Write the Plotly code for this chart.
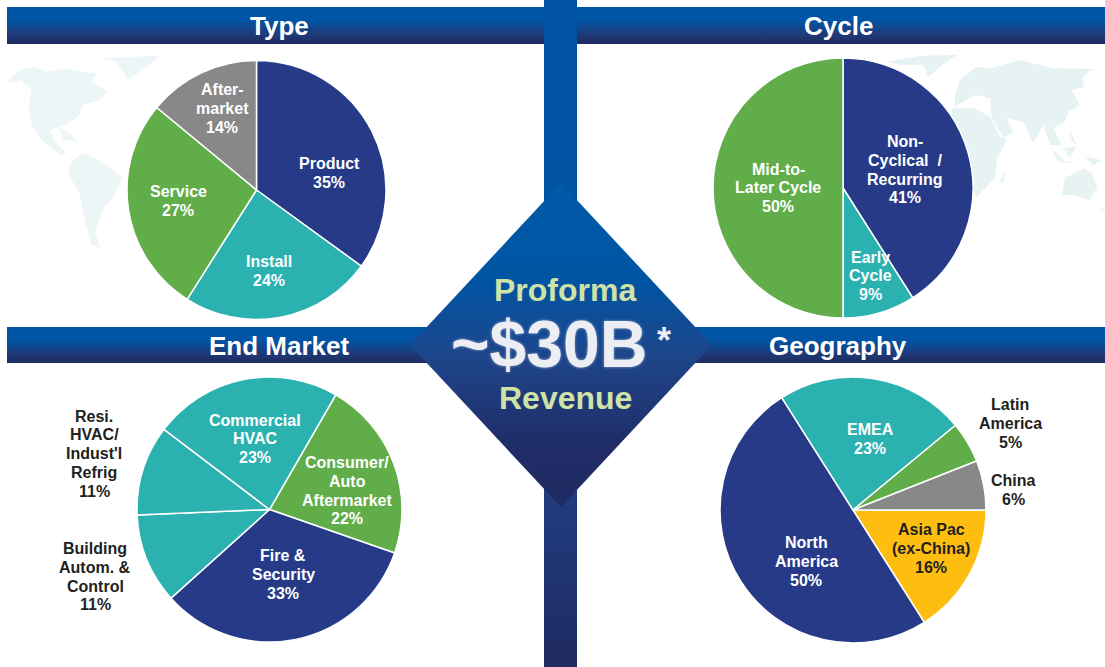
import plotly.graph_objects as go

# ---------- data ----------
type_labels = ["Product", "Install", "Service", "Aftermarket"]
type_values = [35, 24, 27, 14]
cycle_labels = ["Non-Cyclical / Recurring", "Early Cycle", "Mid-to-Later Cycle"]
cycle_values = [41, 9, 50]
market_labels = ["Consumer/Auto Aftermarket", "Fire & Security", "Building Autom. & Control",
                 "Resi. HVAC/Indust'l Refrig", "Commercial HVAC"]
market_values = [22, 33, 11, 11, 23]
geo_labels = ["Asia Pac (ex-China)", "North America", "EMEA", "Latin America", "China"]
geo_values = [16, 50, 23, 5, 6]

NAVY, TEAL, GREEN, GREY, YELLOW = "#263a87", "#2bb2b0", "#60ad4a", "#888888", "#fdbe10"
WHITE, INK, PALE = "#ffffff", "#231f20", "#cfe3a6"
FONT = "Liberation Sans"
W, H = 1105, 667

fig = go.Figure()

# ---------- pale world maps (decoration) ----------
maps = [
    (0, 45, "#edf6f6", [
        [(25,105),(60,75),(105,65),(140,80),(200,70),(230,78),(290,85),(275,110),(320,140),(300,165),(250,180),(235,215),(195,240),(150,255),(165,290),(200,325),(180,330),(125,285),(95,240),(85,190),(95,130),(60,105),(25,115)],
        [(300,40),(480,32),(440,65),(385,105),(360,70),(350,50)],
        [(215,350),(245,325),(300,345),(365,395),(345,450),(310,490),(285,560),(300,610),(275,600),(258,540),(240,450),(205,385)],
        [(175,245),(205,262),(235,290),(190,285)],
    ]),
    (880, 45, "#e7f3f3", [
        [(20,50),(120,32),(230,30),(180,65),(145,95),(130,60),(60,60)],
        [(225,150),(240,105),(290,65),(330,70),(420,45),(520,70),(640,72),(610,95),(610,125),(575,135),(600,180),(565,200),(555,230),(520,250),(545,300),(510,300),(490,240),(460,295),(430,230),(380,220),(400,260),(370,280),(335,220),(330,160),(285,150),(225,185)],
        [(215,190),(285,190),(330,215),(360,275),(380,285),(350,345),(345,400),(290,455),(270,440),(240,300),(215,250)],
        [(375,375),(370,415),(358,410)],
        [(545,450),(555,400),(610,370),(635,385),(652,425),(630,465),(580,450)],
        [(515,310),(560,355),(530,345)],
        [(550,310),(590,305),(570,340)],
        [(570,255),(590,300),(575,290)],
        [(530,345),(590,355),(540,352)],
        [(615,335),(665,345),(640,360)],
        [(660,495),(675,490),(665,500)],
    ]),
]
shapes = []
for ox, oy, tint, polys in maps:
    for poly in polys:
        pts = [(ox + x / 3, oy + y / 3) for x, y in poly]
        path = "M " + " L ".join(f"{x:.1f},{y:.1f}" for x, y in pts) + " Z"
        shapes.append(dict(type="path", path=path, xref="x", yref="y", layer="below",
                           fillcolor=tint, line=dict(width=0)))

# ---------- gradient banners and centre diamond ----------
# stops are listed top to bottom of the picture
BAND = [[0, "#0055a5"], [0.35, "#0055a5"], [0.75, "#1f3a78"], [1, "#1f2a60"]]
TALL = [[0, "#0052a2"], [0.4, "#0055a3"], [0.7, "#1f3f85"], [1, "#1f2a60"]]
DIAMOND = [[0, "#005aa8"], [0.3, "#0055a3"], [0.55, "#1f4489"], [0.8, "#1f2d68"], [1, "#1f2a60"]]


def band(xs, ys, stops):
    # the y axis runs downwards, so the fill gradient is given bottom to top
    scale = [[round(1 - p, 4), c] for p, c in reversed(stops)]
    fig.add_trace(go.Scatter(x=xs, y=ys, mode="lines", fill="toself",
                             line=dict(width=0), hoverinfo="skip", showlegend=False,
                             fillgradient=dict(type="vertical", colorscale=scale)))


band([544, 577, 577, 544, 544], [0, 0, 667, 667, 0], TALL)
band([7, 544, 544, 7, 7], [7, 7, 44, 44, 7], BAND)
band([577, 1105, 1105, 577, 577], [7, 7, 44, 44, 7], BAND)
band([7, 440, 440, 7, 7], [327, 327, 363, 363, 327], BAND)
band([680, 1105, 1105, 680, 680], [327, 327, 363, 363, 327], BAND)
band([561, 712, 561, 410, 561], [183, 345, 507, 345, 183], DIAMOND)


# ---------- pies ----------
def pie(labels, values, colors, cx, cy, r, rotation):
    fig.add_trace(go.Pie(
        labels=labels, values=values, sort=False, direction="clockwise", rotation=rotation,
        textinfo="none", showlegend=False,
        marker=dict(colors=colors, line=dict(color=WHITE, width=1.5)),
        domain=dict(x=[(cx - r) / W, (cx + r) / W], y=[1 - (cy + r) / H, 1 - (cy - r) / H]),
    ))


pie(type_labels, type_values, [NAVY, TEAL, GREEN, GREY], 256.5, 190, 129.5, 0)
pie(cycle_labels, cycle_values, [NAVY, TEAL, GREEN], 843, 188, 130, 0)
pie(market_labels, market_values, [GREEN, NAVY, TEAL, TEAL, TEAL], 269.5, 509.5, 132.5, 30)
pie(geo_labels, geo_values, [YELLOW, NAVY, TEAL, GREEN, GREY], 853, 510, 133, 90)

# ---------- text ----------
annotations = []


def text(s, x, y, size=16, color=WHITE, **font):
    annotations.append(dict(text=s, x=x, y=y, xref="x", yref="y", showarrow=False,
                            xanchor="center", yanchor="middle",
                            font=dict(family=FONT, size=size, color=color, weight="bold", **font)))


def block(lines, x, y, color=WHITE, step=18.8):
    for i, line in enumerate(lines):
        text(line, x, y + i * step, color=color)


for s, x, y in [("Type", 279, 26), ("Cycle", 838, 26), ("End Market", 279, 346), ("Geography", 838, 346)]:
    text(s, x, y, size=26)

block(["Product", "35%"], 329, 163.5)
block(["Install", "24%"], 269, 261.5)
block(["Service", "27%"], 178, 191.5)
block(["After-", "market", "14%"], 222, 89.5)

block(["Non-", "Cyclical&nbsp;&nbsp;/", "Recurring", "41%"], 905, 141.5)
block(["Early", "Cycle", "9%"], 870, 257)
block(["Mid-to-", "Later Cycle", "50%"], 778, 169)

block(["Commercial", "HVAC", "23%"], 255, 420)
block(["Consumer/", "Auto", "Aftermarket", "22%"], 347, 462.5)
block(["Fire &", "Security", "33%"], 283, 555.5)
block(["Resi.", "HVAC/", "Indust'l", "Refrig", "11%"], 94, 416, color=INK)
block(["Building", "Autom. &", "Control", "11%"], 95, 548.5, color=INK)

block(["EMEA", "23%"], 870, 429.5)
block(["Latin", "America", "5%"], 1010, 404.5, color=INK)
block(["China", "6%"], 1013, 480.5, color=INK)
block(["Asia Pac", "(ex-China)", "16%"], 931, 529.5, color=INK)
block(["North", "America", "50%"], 806, 542.5)

text("Proforma", 565, 290, size=32, color=PALE)
text("~$30B", 549, 344, size=66, color="#eceef3", shadow="0 0 3px #9fb0d0")
text("*", 664, 340, size=36, color="#eceef3")
text("Revenue", 565, 398, size=32, color=PALE)

fig.update_layout(
    width=W, height=H, margin=dict(l=0, r=0, t=0, b=0),
    paper_bgcolor=WHITE, plot_bgcolor=WHITE,
    xaxis=dict(range=[0, W], visible=False, fixedrange=True),
    yaxis=dict(range=[H, 0], visible=False, fixedrange=True),
    shapes=shapes, annotations=annotations,
)

fig.write_html("out.html", config=dict(displayModeBar=False),
               post_script="document.body.style.margin='0';document.documentElement.style.overflow='hidden';")
